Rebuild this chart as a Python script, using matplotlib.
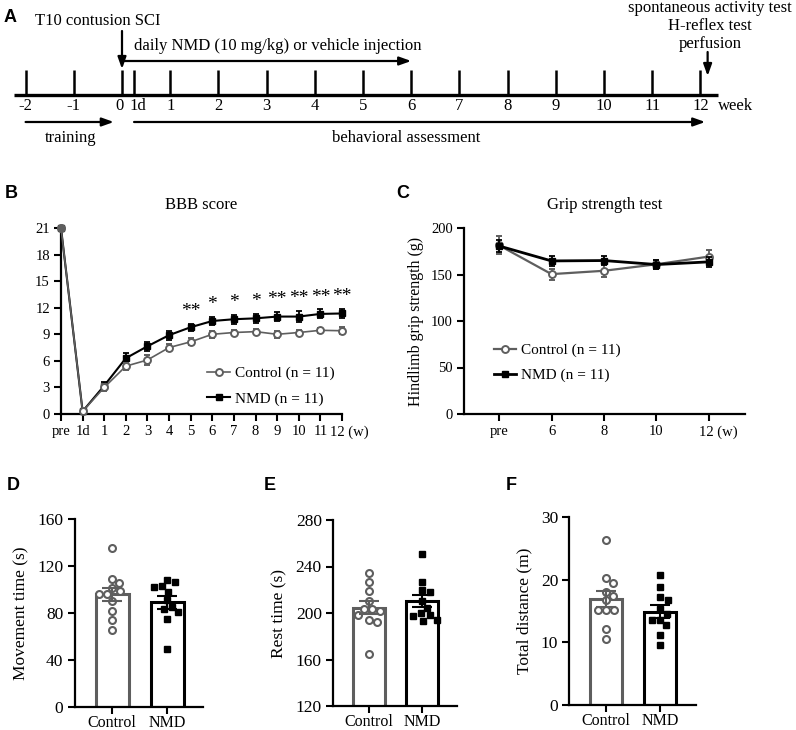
import numpy as np
import matplotlib
matplotlib.use('Agg')
import matplotlib.pyplot as plt
import matplotlib.transforms as mtransforms
from matplotlib.lines import Line2D

plt.rcParams['font.family'] = ['Liberation Serif', 'DejaVu Serif']
plt.rcParams['axes.linewidth'] = 1.6

# ---------------- data ----------------
timeline_weeks = [-2, -1, 0, 0.25, 1, 2, 3, 4, 5, 6, 7, 8, 9, 10, 11, 12]
timeline_labels = ['-2', '-1', '0', '1d', '1', '2', '3', '4', '5', '6', '7', '8', '9', '10', '11', '12']

bbb_labels = ['pre', '1d', '1', '2', '3', '4', '5', '6', '7', '8', '9', '10', '11', '12 (w)']
bbb_ctrl = [21, 0.3, 3.0, 5.4, 6.1, 7.5, 8.15, 9.0, 9.2, 9.3, 9.0, 9.2, 9.45, 9.4]
bbb_ctrl_sem = [0, 0.1, 0.4, 0.4, 0.6, 0.4, 0.4, 0.4, 0.3, 0.3, 0.4, 0.3, 0.3, 0.4]
bbb_nmd = [21, 0.3, 3.2, 6.3, 7.65, 8.9, 9.8, 10.5, 10.7, 10.8, 11.0, 11.0, 11.3, 11.35]
bbb_nmd_sem = [0, 0.1, 0.4, 0.6, 0.5, 0.5, 0.4, 0.4, 0.5, 0.5, 0.5, 0.6, 0.5, 0.5]
bbb_sig = ['', '', '', '', '', '', '**', '*', '*', '*', '**', '**', '**', '**']

grip_labels = ['pre', '6', '8', '10', '12 (w)']
grip_ctrl = [181.4, 150.4, 154.0, 161.0, 169.3]
grip_ctrl_sem = [9.5, 6.0, 7.0, 5.0, 7.0]
grip_nmd = [180.7, 164.6, 165.0, 160.7, 163.6]
grip_nmd_sem = [6.0, 5.0, 5.0, 5.0, 5.0]

groups = ['Control', 'NMD']
move_ctrl = [135.7, 108.9, 105.5, 101.3, 98.5, 96.2, 96.2, 90.0, 82.1, 74.2, 65.8]
move_nmd = [107.8, 106.4, 102.7, 101.8, 97.9, 90.8, 85.0, 83.0, 80.7, 74.5, 49.1]
rest_ctrl = [234.4, 226.7, 218.7, 210.1, 203.5, 203.5, 202.1, 198.7, 194.4, 192.1, 164.5]
rest_nmd = [250.9, 226.4, 219.5, 217.8, 210.1, 204.4, 199.6, 197.9, 197.0, 194.4, 193.0]
dist_ctrl = [26.3, 20.2, 19.4, 18.1, 17.4, 16.7, 15.2, 15.2, 15.2, 12.1, 10.6]
dist_nmd = [20.8, 18.8, 17.2, 16.7, 15.3, 14.6, 13.6, 13.5, 12.7, 11.1, 9.5]

# ---------------- layout helpers ----------------
W, H = 796, 730
fig = plt.figure(figsize=(W / 100, H / 100), dpi=100)
GRAY = '#5e5e5e'


def px_axes(l, t, r, b):
    return fig.add_axes([l / W, 1 - b / H, (r - l) / W, (b - t) / H])


def letter(x, y, s):
    fig.text(x / W, 1 - y / H, s, ha='center', va='center', fontsize=13,
             fontweight='bold', family=['Liberation Sans', 'DejaVu Sans'])


def style_axes(ax, fs):
    ax.spines['top'].set_visible(False)
    ax.spines['right'].set_visible(False)
    ax.tick_params(direction='out', length=5, width=1.5, labelsize=fs, pad=3)


def shift_last_label(ax, dx_px):
    lab = ax.get_xticklabels()[-1]
    lab.set_transform(lab.get_transform() +
                      mtransforms.ScaledTranslation(dx_px / 100, 0, fig.dpi_scale_trans))


# ---------------- panel A ----------------
axA = px_axes(0, 0, W, 160)
x0_px, wk_px = 122.0, 48.2
axA.set_xlim((0 - x0_px) / wk_px, (W - x0_px) / wk_px)
axA.set_ylim(160, 0)
axA.axis('off')
fsA = 12
axA.plot([timeline_weeks[0] - 0.24, timeline_weeks[-1] + 0.37], [95, 95], color='black', lw=2.4,
         solid_capstyle='butt')
axA.vlines(timeline_weeks, 70, 95, color='black', lw=1.8)
for w, lab in zip(timeline_weeks, timeline_labels):
    dx = -0.05 if lab == '0' else (0.08 if lab == '1d' else 0)
    axA.text(w + dx, 106, lab, ha='center', va='center', fontsize=fsA)
axA.text(timeline_weeks[-1] + 0.72, 106, 'week', ha='center', va='center', fontsize=fsA)
arrow_kw = dict(arrowstyle='-|>,head_length=0.7,head_width=0.25', color='black', lw=1.6,
                shrinkA=0, shrinkB=0)
axA.annotate('', xy=(0, 69), xytext=(0, 31), arrowprops=arrow_kw)
axA.text(-0.5, 21, 'T10 contusion SCI', ha='center', va='center', fontsize=fsA)
axA.annotate('', xy=(6.0, 61), xytext=(0, 61), arrowprops=arrow_kw)
axA.text(0.25, 46, 'daily NMD (10 mg/kg) or vehicle injection', ha='left', va='center', fontsize=fsA)
axA.annotate('', xy=(-0.17, 122), xytext=(-2, 122), arrowprops=arrow_kw)
axA.annotate('', xy=(12.1, 122), xytext=(0.25, 122), arrowprops=arrow_kw)
axA.text(-1.06, 138, 'training', ha='center', va='center', fontsize=fsA)
axA.text(5.9, 138, 'behavioral assessment', ha='center', va='center', fontsize=fsA)
for yy, s in zip([8, 26, 44], ['spontaneous activity test', 'H-reflex test', 'perfusion']):
    axA.text(12.2, yy, s, ha='center', va='center', fontsize=fsA)
axA.annotate('', xy=(12.15, 76), xytext=(12.15, 52), arrowprops=arrow_kw)
letter(10, 18, 'A')

# ---------------- panel B ----------------
axB = px_axes(61, 228, 342, 414)
style_axes(axB, 10.5)
xb = np.arange(len(bbb_labels))
axB.errorbar(xb, bbb_nmd, yerr=bbb_nmd_sem, color='black', marker='s', ms=5, lw=1.5,
             elinewidth=1.3, capsize=2.5, capthick=1.3, clip_on=False, zorder=3)
axB.errorbar(xb, bbb_ctrl, yerr=bbb_ctrl_sem, color=GRAY, marker='o', ms=5, mfc='white',
             mec=GRAY, mew=1.4, lw=1.2, elinewidth=1.2, capsize=2.5, capthick=1.2,
             clip_on=False, zorder=4)
axB.plot(xb[:1], bbb_ctrl[:1], 'o', ms=5, color=GRAY, zorder=5, clip_on=False)
for i, s in enumerate(bbb_sig):
    if s:
        axB.text(xb[i], bbb_nmd[i] + bbb_nmd_sem[i] + 0.45, s, ha='center', va='bottom',
                 fontsize=14)
axB.set_xlim(0, 13)
axB.set_ylim(0, 21)
axB.set_yticks(np.arange(0, 22, 3))
axB.set_xticks(xb)
axB.set_xticklabels(bbb_labels)
shift_last_label(axB, 7)
axB.set_title('BBB score', fontsize=12, pad=14)
hB = [Line2D([], [], color=GRAY, marker='o', mfc='white', mec=GRAY, mew=1.4, ms=5, lw=1.2),
      Line2D([], [], color='black', marker='s', ms=5, lw=1.5)]
axB.legend(hB, ['Control (n = 11)', 'NMD (n = 11)'], loc='lower left',
           bbox_to_anchor=(0.52, 0.045), frameon=False, fontsize=11, handlelength=1.5,
           handletextpad=0.3, labelspacing=0.75, borderpad=0, borderaxespad=0)
letter(11, 193, 'B')

# ---------------- panel C ----------------
axC = px_axes(464, 228, 745, 414)
style_axes(axC, 10.5)
xc = np.arange(1, len(grip_labels) + 1)
axC.errorbar(xc, grip_ctrl, yerr=grip_ctrl_sem, color=GRAY, marker='o', ms=5, mfc='white',
             mec=GRAY, mew=1.4, lw=1.6, elinewidth=1.3, capsize=2.5, capthick=1.3, zorder=3)
axC.errorbar(xc, grip_nmd, yerr=grip_nmd_sem, color='black', marker='s', ms=5, lw=2.0,
             elinewidth=1.3, capsize=2.5, capthick=1.3, zorder=4)
axC.set_xlim(0.333, 5.686)
axC.set_ylim(0, 200)
axC.set_yticks(np.arange(0, 201, 50))
axC.set_xticks(xc)
axC.set_xticklabels(grip_labels)
shift_last_label(axC, 9)
axC.set_title('Grip strength test', fontsize=12, pad=14)
axC.set_ylabel('Hindlimb grip strength (g)', fontsize=11.5, labelpad=5)
hC = [Line2D([], [], color=GRAY, marker='o', mfc='white', mec=GRAY, mew=1.4, ms=5, lw=1.6),
      Line2D([], [], color='black', marker='s', ms=5, lw=2.0)]
axC.legend(hC, ['Control (n = 11)', 'NMD (n = 11)'], loc='lower left',
           bbox_to_anchor=(0.105, 0.17), frameon=False, fontsize=11, handlelength=1.5,
           handletextpad=0.3, labelspacing=0.75, borderpad=0, borderaxespad=0)
letter(403, 193, 'C')


# ---------------- panels D, E, F ----------------
def swarm(values, ax_h_px, yrange, unit_px, d_px=8.0):
    ppu = ax_h_px / yrange
    placed = []
    offs = []
    for v in values:
        y = v * ppu
        cand = [0.0]
        for k in np.arange(0.5, 40, 0.5):
            cand += [k, -k]
        for c in cand:
            if all((c - px) ** 2 + (y - py) ** 2 >= d_px ** 2 for px, py in placed):
                break
        placed.append((c, y))
        offs.append(c / unit_px)
    return np.array(offs)


def bar_panel(left, top, bottom, spacing, ylim, yticks, ylabel, ctrl, nmd):
    xl = (-0.68, 1.66)
    l = left
    r = left + (xl[1] - xl[0]) * spacing
    ax = px_axes(l, top, r, bottom)
    style_axes(ax, 12.5)
    ax.tick_params(axis='x', labelsize=11.5, pad=1)
    for i, (vals, col) in enumerate([(ctrl, GRAY), (nmd, 'black')]):
        vals = np.array(vals)
        m = vals.mean()
        sem = vals.std(ddof=1) / np.sqrt(len(vals))
        ax.bar(i, m, width=0.6, color='white', edgecolor=col, linewidth=2.2, zorder=1)
        offs = swarm(vals, bottom - top, ylim[1] - ylim[0], spacing)
        if i == 0:
            ax.plot(i + offs, vals, 'o', ms=5, mfc='white', mec=col, mew=1.5, zorder=3,
                    clip_on=False)
        else:
            ax.plot(i + offs, vals, 's', ms=4.8, color='black', zorder=3, clip_on=False)
        ax.errorbar(i, m, yerr=sem, fmt='none', ecolor=col, elinewidth=1.5, capsize=7,
                    capthick=1.5, zorder=4)
    ax.set_xlim(*xl)
    ax.set_ylim(*ylim)
    ax.set_yticks(yticks)
    ax.set_xticks([0, 1])
    ax.set_xticklabels(groups)
    ax.set_ylabel(ylabel, fontsize=12.5, labelpad=6)
    return ax


bar_panel(112 - 0.68 * 55, 519, 707, 55, (0, 160), np.arange(0, 161, 40), 'Movement time (s)',
          move_ctrl, move_nmd)
bar_panel(369 - 0.68 * 53, 520, 706, 53, (120, 280), np.arange(120, 281, 40), 'Rest time (s)',
          rest_ctrl, rest_nmd)
bar_panel(606 - 0.68 * 54, 517, 705, 54, (0, 30), np.arange(0, 31, 10), 'Total distance (m)',
          dist_ctrl, dist_nmd)
letter(13, 485, 'D')
letter(270, 485, 'E')
letter(511, 485, 'F')

fig.savefig('out.png', dpi=100)
